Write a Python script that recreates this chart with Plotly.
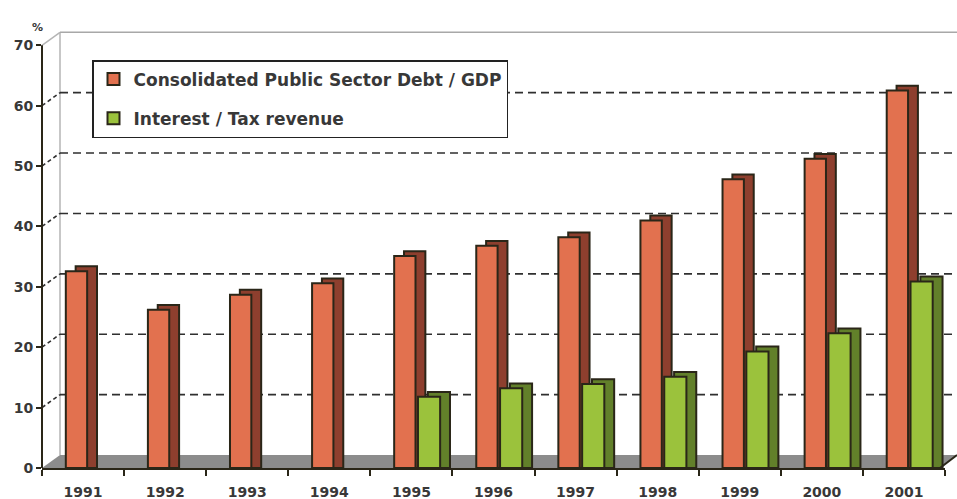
import plotly.graph_objects as go

years = ["1991", "1992", "1993", "1994", "1995", "1996", "1997", "1998", "1999", "2000", "2001"]
debt_gdp = [32.6, 26.2, 28.7, 30.6, 35.1, 36.8, 38.2, 41.0, 47.8, 51.2, 62.5]
interest_tax = [None, None, None, None, 11.8, 13.2, 13.9, 15.1, 19.3, 22.3, 30.9]
y_ticks = [0, 10, 20, 30, 40, 50, 60, 70]
series_names = ["Consolidated Public Sector Debt / GDP", "Interest / Tax revenue"]

# --- styling / geometry ---
W, H = 957, 499
L, R, T, B = 42, 945, 32, 468          # plot area in pixels
YMAX = 72.2
DEPTH_Y = 0.8                          # 3D bar top depth (value units)
DEPTH_X = 0.12                         # 3D bar side depth (category units)
WALL_DX = 18                           # back wall offset, px
WALL_DY = 13

RED, RED_SIDE = "#E2714F", "#8E3F2E"
GREEN, GREEN_SIDE = "#9BC23C", "#62802A"
OUT = "#2a2618"
TXT = "#383838"
FONT = "DejaVu Sans"


def px(x):
    return (x - L) / (R - L)


def py(v):
    return v / YMAX


wall_y = WALL_DY / (B - T)

fig = go.Figure()

def side_vals(vals):
    return [None if v is None else v + DEPTH_Y for v in vals]

fig.add_trace(go.Bar(x=years, y=side_vals(debt_gdp), offset=-0.21 + DEPTH_X, width=0.26,
                     marker=dict(color=RED_SIDE, line=dict(color=OUT, width=2)),
                     showlegend=False, hoverinfo="skip"))
fig.add_trace(go.Bar(x=years, y=debt_gdp, offset=-0.21, width=0.26, name=series_names[0],
                     legendgroup="a",
                     marker=dict(color=RED, line=dict(color=OUT, width=2))))
fig.add_trace(go.Bar(x=years, y=side_vals(interest_tax), offset=0.08 + DEPTH_X, width=0.27,
                     marker=dict(color=GREEN_SIDE, line=dict(color=OUT, width=2)),
                     showlegend=False, hoverinfo="skip"))
fig.add_trace(go.Bar(x=years, y=interest_tax, offset=0.08, width=0.27, name=series_names[1],
                     legendgroup="b",
                     marker=dict(color=GREEN, line=dict(color=OUT, width=2))))

shapes = []
wx0 = px(L + WALL_DX)
wx1 = px(W)
# floor
shapes.append(dict(type="path", xref="paper", yref="paper", layer="below",
                   path=f"M 0 0 L {px(940)} 0 L {wx1} {wall_y} L {wx0} {wall_y} Z",
                   fillcolor="#8c8c8c", line=dict(width=0)))
shapes.append(dict(type="line", xref="paper", yref="paper", layer="above",
                   x0=px(940), y0=0, x1=wx1, y1=wall_y, line=dict(color=OUT, width=2)))
# back wall edges
shapes.append(dict(type="line", xref="paper", yref="paper", layer="below",
                   x0=wx0, y0=wall_y, x1=wx0, y1=py(70) + wall_y, line=dict(color="#b5b5b5", width=1.5)))
shapes.append(dict(type="line", xref="paper", yref="paper", layer="below",
                   x0=wx0, y0=py(70) + wall_y, x1=wx1, y1=py(70) + wall_y, line=dict(color="#a8a8a8", width=1.5)))
shapes.append(dict(type="line", xref="paper", yref="paper", layer="below",
                   x0=0, y0=py(70), x1=wx0, y1=py(70) + wall_y, line=dict(color="#b5b5b5", width=1.5)))
# gridlines on back wall + connectors
for v in y_ticks[1:-1]:
    shapes.append(dict(type="line", xref="paper", yref="paper", layer="below",
                       x0=wx0, y0=py(v) + wall_y, x1=wx1, y1=py(v) + wall_y,
                       line=dict(color="#2f2f2f", width=1.6, dash="8px,5px")))
    shapes.append(dict(type="line", xref="paper", yref="paper", layer="below",
                       x0=0, y0=py(v), x1=wx0, y1=py(v) + wall_y,
                       line=dict(color="#2f2f2f", width=1.6, dash="4px,3px")))
# y axis line (0..70)
shapes.append(dict(type="line", xref="paper", yref="paper", layer="above",
                   x0=0, y0=0, x1=0, y1=py(70), line=dict(color=OUT, width=2)))

fig.update_layout(
    width=W, height=H,
    margin=dict(l=L, r=W - R, t=T, b=H - B, autoexpand=False),
    paper_bgcolor="white", plot_bgcolor="rgba(0,0,0,0)",
    barmode="overlay",
    shapes=shapes,
    font=dict(family=FONT, color=TXT),
    showlegend=True,
    legend=dict(x=px(92), y=(B - 60) / (B - T), xanchor="left", yanchor="top",
                bgcolor="white", bordercolor="#222", borderwidth=1.5,
                font=dict(family=FONT, size=17, color=TXT, weight="bold"),
                tracegroupgap=14, traceorder="grouped"),
    xaxis=dict(type="category", range=[-0.5, 10.5], showline=True, linecolor=OUT, linewidth=2,
               ticks="outside", tickson="boundaries", ticklen=6, tickcolor=OUT, tickwidth=1.5,
               showgrid=False, zeroline=False, ticklabelstandoff=10, automargin=False,
               tickfont=dict(family=FONT, size=14, color=TXT, weight="bold")),
    yaxis=dict(range=[0, YMAX], tickvals=y_ticks, ticks="outside", ticklen=5, tickcolor=OUT,
               tickwidth=1.5, showline=False, showgrid=False, zeroline=False, automargin=False,
               tickfont=dict(family=FONT, size=14, color=TXT, weight="bold")),
    annotations=[dict(text="%", xref="paper", yref="paper", x=px(30), y=(B - 19) / (B - T),
                      showarrow=False, font=dict(family=FONT, size=11, color=TXT, weight="bold"))],
)

fig.write_html("out.html", config={"displayModeBar": False},
               post_script="document.body.style.margin='0';document.body.style.overflow='hidden';")
